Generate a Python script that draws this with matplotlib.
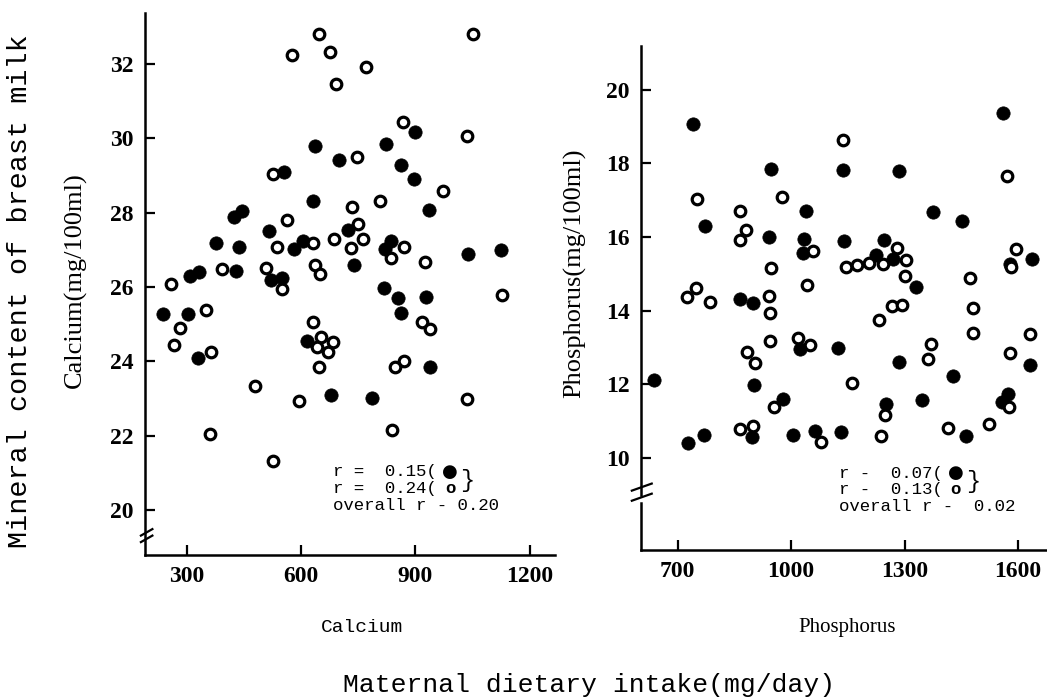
import matplotlib
matplotlib.use("Agg")
import matplotlib.pyplot as plt

# Calcium panel (x: dietary intake mg/day, y: milk content mg/100ml)
ca_filled_x = [638, 823, 899, 700, 862, 896, 555, 631, 935, 425, 444, 517, 377, 438, 582, 604,
               723, 820, 835, 1037, 1124, 738, 309, 333, 429, 521, 549, 817, 854, 928, 862, 239,
               303, 330, 615, 939, 679, 785]
ca_filled_y = [29.79, 29.83, 30.16, 29.4, 29.28, 28.89, 29.09, 28.3, 28.06, 27.88, 28.04, 27.5,
               27.19, 27.08, 27.01, 27.24, 27.53, 27.01, 27.24, 26.88, 26.99, 26.59, 26.3, 26.41,
               26.44, 26.2, 26.23, 25.98, 25.7, 25.72, 25.31, 25.27, 25.27, 24.09, 24.55, 23.86,
               23.09, 23.02]
ca_open_x = [648, 1050, 576, 675, 771, 692, 868, 1036, 747, 526, 972, 807, 734, 563, 750, 687,
             763, 536, 632, 732, 871, 836, 926, 393, 508, 636, 650, 258, 551, 1128, 351, 282,
             267, 364, 631, 652, 641, 685, 670, 647, 917, 939, 871, 846, 480, 595, 1036, 362,
             838, 526]
ca_open_y = [32.8, 32.8, 32.24, 32.3, 31.9, 31.46, 30.43, 30.05, 29.5, 29.03, 28.58, 28.3, 28.14,
             27.8, 27.7, 27.3, 27.28, 27.08, 27.19, 27.06, 27.08, 26.77, 26.68, 26.47, 26.5,
             26.59, 26.34, 26.07, 25.95, 25.79, 25.38, 24.89, 24.45, 24.25, 25.05, 24.67, 24.4,
             24.52, 24.25, 23.86, 25.07, 24.87, 24.02, 23.85, 23.35, 22.93, 22.99, 22.06, 22.15,
             21.34]

# Phosphorus panel
p_filled_x = [740, 1561, 947, 1138, 1285, 772, 1039, 1376, 1452, 942, 1035, 1139, 1245, 1032,
              1224, 1270, 1579, 1636, 1330, 864, 899, 637, 1023, 1125, 1285, 1429, 1632, 902,
              979, 1250, 1346, 1557, 1574, 727, 769, 897, 1005, 1063, 1132, 1462]
p_filled_y = [19.07, 19.37, 17.84, 17.82, 17.78, 16.29, 16.72, 16.69, 16.43, 16.0, 15.96, 15.89,
              15.91, 15.58, 15.52, 15.4, 15.27, 15.4, 14.64, 14.33, 14.2, 12.12, 12.95, 12.99,
              12.62, 12.23, 12.53, 11.99, 11.61, 11.46, 11.59, 11.52, 11.74, 10.42, 10.64, 10.56,
              10.64, 10.74, 10.7, 10.6]
p_open_x = [1136, 1572, 751, 975, 864, 880, 864, 1058, 947, 1281, 1144, 1174, 1205, 1242, 1303,
            1302, 1594, 1581, 1473, 1042, 747, 725, 785, 942, 945, 1266, 1294, 1480, 1233, 1480,
            1632, 944, 1017, 1049, 1370, 1361, 1579, 882, 905, 1160, 954, 1249, 1577, 864, 899,
            1080, 1237, 1416, 1524]
p_open_y = [18.64, 17.66, 17.03, 17.1, 16.72, 16.18, 15.92, 15.62, 15.15, 15.69, 15.2, 15.24,
            15.29, 15.27, 15.37, 14.95, 15.67, 15.2, 14.89, 14.7, 14.62, 14.37, 14.23, 14.4,
            13.95, 14.13, 14.15, 14.08, 13.75, 13.39, 13.37, 13.17, 13.26, 13.08, 13.1, 12.68,
            12.86, 12.88, 12.59, 12.05, 11.38, 11.16, 11.38, 10.78, 10.88, 10.45, 10.6, 10.83,
            10.92]

ca_xticks = [300, 600, 900, 1200]
ca_yticks = [20, 22, 24, 26, 28, 30, 32]
p_xticks = [700, 1000, 1300, 1600]
p_yticks = [10, 12, 14, 16, 18, 20]

ca_notes = ["r =  0.15(", "r =  0.24(", "overall r - 0.20"]
p_notes = ["r -  0.07(", "r -  0.13(", "overall r -  0.02"]

MONO = ["Liberation Mono", "DejaVu Sans Mono"]
SERIF = ["Liberation Serif", "DejaVu Serif"]


def style_axes(ax, xticks, yticks):
    ax.spines["top"].set_visible(False)
    ax.spines["right"].set_visible(False)
    for s in ("left", "bottom"):
        ax.spines[s].set_linewidth(1.8)
    ax.set_xticks(xticks)
    ax.set_yticks(yticks)
    ax.tick_params(direction="in", length=7, width=1.6, pad=8)
    for lab in ax.get_xticklabels() + ax.get_yticklabels():
        lab.set_fontfamily(SERIF)
        lab.set_fontweight("bold")
        lab.set_fontsize(17)


def scatter_pair(ax, fx, fy, ox, oy):
    ax.scatter(fx, fy, s=92, c="black", edgecolors="black", linewidths=0.5, zorder=3, clip_on=False)
    ax.scatter(ox, oy, s=58, facecolors="white", edgecolors="black", linewidths=2.3, zorder=4, clip_on=False)


def add_notes(ax, x0, y0, notes):
    # three text lines, with filled / open circle legend glyphs and a closing brace
    step = 0.45
    for i, txt in enumerate(notes):
        ax.text(x0, y0 - i * step, txt, family=MONO, fontsize=12.5, va="center", ha="left")
    glyph_off = 117 * 0.72   # pixels -> points
    brace_off = 134 * 0.72
    ax.annotate("\u25cf", (x0, y0), xytext=(glyph_off, 0), textcoords="offset points",
                family=["DejaVu Sans"], fontsize=13, va="center", ha="center")
    ax.annotate("o", (x0, y0 - step), xytext=(glyph_off, 0), textcoords="offset points",
                family=MONO, fontsize=12.5, fontweight="bold", va="center", ha="center")
    ax.annotate("}", (x0, y0 - step / 2), xytext=(brace_off, 0), textcoords="offset points",
                family=MONO, fontsize=17, va="center", ha="center")


fig = plt.figure(figsize=(10.47, 7.0), dpi=100)

# left panel
ax1 = fig.add_axes([0.1385, 0.207, 0.3916, 0.774])
scatter_pair(ax1, ca_filled_x, ca_filled_y, ca_open_x, ca_open_y)
ax1.set_xlim(191, 1266)
ax1.set_ylim(18.8, 33.35)
style_axes(ax1, ca_xticks, ca_yticks)
add_notes(ax1, 684, 21.04, ca_notes)
# axis break mark
for dy in (0.0, 0.012):
    ax1.plot([-0.01, 0.018], [0.024 + dy, 0.036 + dy], transform=ax1.transAxes,
             color="black", lw=1.6, clip_on=False)

# right panel
ax2 = fig.add_axes([0.612, 0.214, 0.388, 0.721])
scatter_pair(ax2, p_filled_x, p_filled_y, p_open_x, p_open_y)
ax2.set_xlim(602, 1677)
ax2.set_ylim(7.5, 21.2)
style_axes(ax2, p_xticks, p_yticks)
ax2.spines["left"].set_visible(False)
ax2.plot([0, 0], [0, 0.093], transform=ax2.transAxes, color="black", lw=1.8, clip_on=False)
ax2.plot([0, 0], [0.109, 1], transform=ax2.transAxes, color="black", lw=1.8, clip_on=False)
for dy in (0.0, 0.02):
    ax2.plot([-0.022, 0.027], [0.098 + dy, 0.112 + dy], transform=ax2.transAxes,
             color="black", lw=1.6, clip_on=False)
add_notes(ax2, 1126, 9.59, p_notes)

# labels
fig.text(0.019, 0.584, "Mineral content of breast milk", rotation=90, family=MONO,
         fontsize=20.5, ha="center", va="center")
fig.text(0.0716, 0.60, "Calcium(mg/100ml)", rotation=90, family=SERIF, fontsize=19,
         ha="center", va="center")
fig.text(0.549, 0.61, "Phosphorus(mg/100ml)", rotation=90, family=SERIF, fontsize=19,
         ha="center", va="center")
fig.text(0.346, 0.103, "Calcium", family=MONO, fontsize=14, ha="center", va="center")
fig.text(0.809, 0.103, "Phosphorus", family=SERIF, fontsize=15, ha="center", va="center")
fig.text(0.5626, 0.021, "Maternal dietary intake(mg/day)", family=MONO, fontsize=19,
         ha="center", va="center")

fig.savefig("out.png", dpi=100)
